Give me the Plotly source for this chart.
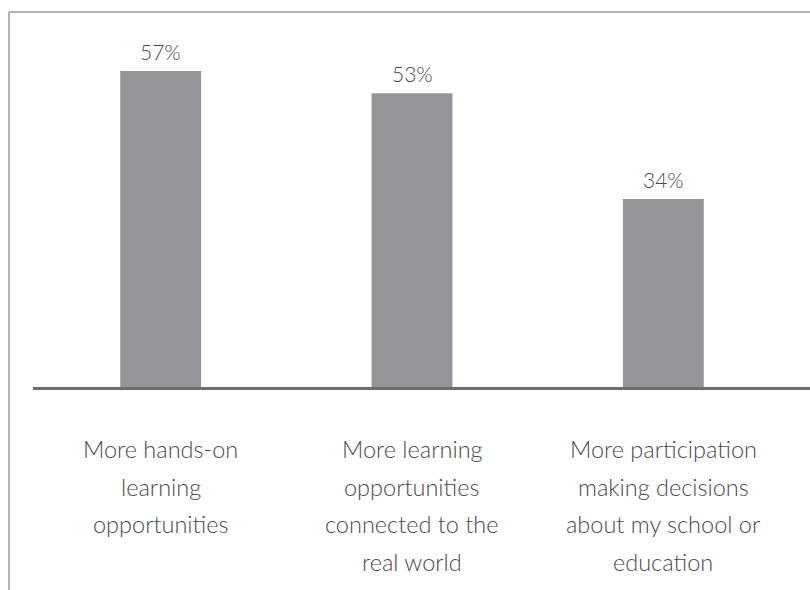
import plotly.graph_objects as go

# Survey responses: what would improve school
categories = ["hands_on", "real_world", "decisions"]
category_lines = [
    ["More hands-on", "learning", "opportunities"],
    ["More learning", "opportunities", "connected to the", "real world"],
    ["More participation", "making decisions", "about my school or", "education"],
]
values = [57, 53, 34]
value_labels = ["57%", "53%", "34%"]

BAR_COLOR = "#939598"
TEXT_COLOR = "#4a4a4a"
FONT = "Lato"

fig = go.Figure(
    go.Bar(
        x=categories,
        y=values,
        marker=dict(color=BAR_COLOR, line=dict(width=0)),
        hoverinfo="skip",
    )
)

annotations = []
# value labels above the bars
for cat, val, lab in zip(categories, values, value_labels):
    annotations.append(dict(
        x=cat, y=val, xref="x", yref="y", text=lab, showarrow=False,
        yanchor="bottom", yshift=5,
        font=dict(family=FONT, size=21, color=TEXT_COLOR, weight=300),
    ))
# category labels below the baseline, one annotation per line for wide spacing
line_step = 37.5
for cat, lines in zip(categories, category_lines):
    for i, line in enumerate(lines):
        annotations.append(dict(
            x=cat, y=0, xref="x", yref="y", text=line, showarrow=False,
            yanchor="middle", yshift=-61 - line_step * i,
            font=dict(family=FONT, size=23.5, color=TEXT_COLOR, weight=300),
        ))

L, R, T, B = 35, 21, 12, 202
W, H = 810, 590
pw, ph = W - L - R, H - T - B


def px_x(p):
    return (p - L) / pw


def px_y(p):
    return (H - B - p) / ph


shapes = [
    # frame: top and left edges
    dict(type="line", xref="paper", yref="paper",
         x0=px_x(9), x1=px_x(812), y0=1, y1=1,
         line=dict(color="#b3b3b3", width=2)),
    dict(type="line", xref="paper", yref="paper",
         x0=px_x(9), x1=px_x(9), y0=1, y1=px_y(592),
         line=dict(color="#b3b3b3", width=2)),
    # baseline
    dict(type="line", xref="paper", yref="paper",
         x0=px_x(33), x1=px_x(812), y0=px_y(388.5), y1=px_y(388.5),
         line=dict(color="#6d6e71", width=3)),
]

fig.update_layout(
    width=W, height=H,
    margin=dict(l=L, r=R, t=T, b=B),
    paper_bgcolor="white", plot_bgcolor="white",
    bargap=0.678,
    showlegend=False,
    xaxis=dict(showticklabels=False, showgrid=False, zeroline=False,
               showline=False, ticks=""),
    yaxis=dict(range=[0, 67.6], showticklabels=False, showgrid=False,
               zeroline=False, showline=False, ticks=""),
    annotations=annotations,
    shapes=shapes,
)

fig.write_html("out.html")
